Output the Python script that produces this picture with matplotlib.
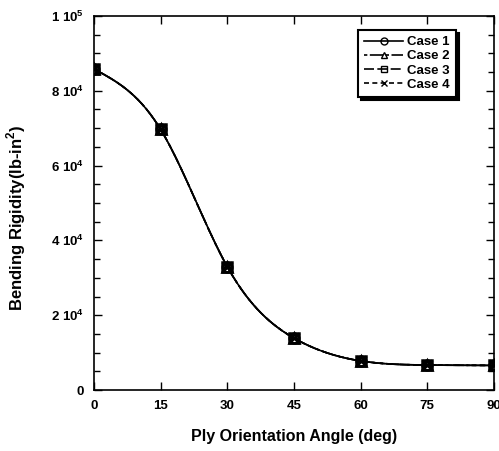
import matplotlib
matplotlib.use("Agg")
import matplotlib.pyplot as plt
import numpy as np

plt.rcParams['font.family'] = ['Liberation Sans', 'DejaVu Sans']
plt.rcParams['font.weight'] = 'bold'
plt.rcParams['mathtext.fontset'] = 'custom'
plt.rcParams['mathtext.rm'] = 'Liberation Sans:bold'
plt.rcParams['mathtext.bf'] = 'Liberation Sans:bold'

# ply angle (deg) vs bending rigidity (lb-in^2)
angles = [0, 15, 30, 45, 60, 75, 90]
case1 = [85800, 69700, 33000, 13900, 7800, 6700, 6600]
case2 = [85800, 69700, 33000, 13900, 7800, 6700, 6600]
case3 = [85800, 69700, 33000, 13900, 7800, 6700, 6600]
case4 = [85800, 69700, 33000, 13900, 7800, 6700, 6600]
case_names = ['Case 1', 'Case 2', 'Case 3', 'Case 4']

yticks = [0, 20000, 40000, 60000, 80000, 100000]
ylabels = ['0', r'2 10$^4$', r'4 10$^4$', r'6 10$^4$', r'8 10$^4$', r'1 10$^5$']


def natural_spline(x, y, xs):
    # plain natural cubic spline through the data points
    x = np.asarray(x, float)
    y = np.asarray(y, float)
    n = len(x)
    h = np.diff(x)
    A = np.zeros((n, n))
    b = np.zeros(n)
    A[0, 0] = A[-1, -1] = 1
    for i in range(1, n - 1):
        A[i, i - 1] = h[i - 1]
        A[i, i] = 2 * (h[i - 1] + h[i])
        A[i, i + 1] = h[i]
        b[i] = 3 * ((y[i + 1] - y[i]) / h[i] - (y[i] - y[i - 1]) / h[i - 1])
    c = np.linalg.solve(A, b)
    out = np.empty_like(xs)
    for k, xv in enumerate(xs):
        i = min(max(np.searchsorted(x, xv) - 1, 0), n - 2)
        d = xv - x[i]
        bi = (y[i + 1] - y[i]) / h[i] - h[i] * (2 * c[i] + c[i + 1]) / 3
        di = (c[i + 1] - c[i]) / (3 * h[i])
        out[k] = y[i] + bi * d + c[i] * d ** 2 + di * d ** 3
    return out


fig = plt.figure(figsize=(4.99, 4.51), dpi=100)
ax = fig.add_axes([0.188, 0.135, 0.802, 0.83])

xs = np.linspace(0, 90, 300)
styles = [('o', '-'), ('^', (0, (2, 1.5, 8, 1.5))), ('s', (0, (6, 2))), ('x', (0, (3, 2)))]
for vals, name, (mk, ls) in zip([case1, case2, case3, case4], case_names, styles):
    ax.plot(xs, natural_spline(angles, vals, xs), color='black', lw=1.2, ls=ls)
    ax.plot(angles, vals, color='black', ls='none', marker=mk, ms=7, mfc='none', mew=1.8)
    # proxy for legend
    ax.plot([], [], color='black', lw=1.2, ls=ls, marker=mk, ms=5, mfc='none', mew=1, label=name)

ax.set_xlim(0, 90)
ax.set_ylim(0, 100000)
ax.set_xticks(angles)
ax.set_yticks(yticks)
ax.set_yticklabels(ylabels)
ax.set_yticks(np.arange(0, 100001, 5000), minor=True)
ax.tick_params(direction='in', which='both', top=True, right=True, labelsize=9.5, pad=7)
ax.tick_params(which='major', length=6, width=1)
ax.tick_params(which='minor', length=4, width=1)
for s in ax.spines.values():
    s.set_linewidth(1.2)

ax.set_xlabel('Ply Orientation Angle (deg)', fontsize=11.5, fontweight='bold', labelpad=12)
ax.set_ylabel(r'Bending Rigidity(lb-in$^2$)', fontsize=12, fontweight='bold')
ax.yaxis.set_label_coords(-0.165, 0.46)

leg = ax.legend(loc='upper right', bbox_to_anchor=(0.905, 0.962), borderaxespad=0,
                fontsize=9.5, frameon=True, fancybox=False, edgecolor='black',
                handlelength=3.0, borderpad=0.45, labelspacing=0.15, handletextpad=0.3,
                shadow={'color': 'black', 'alpha': 1, 'ox': 2, 'oy': -2})
leg.get_frame().set_linewidth(1.5)

fig.savefig('out.png', dpi=100)
